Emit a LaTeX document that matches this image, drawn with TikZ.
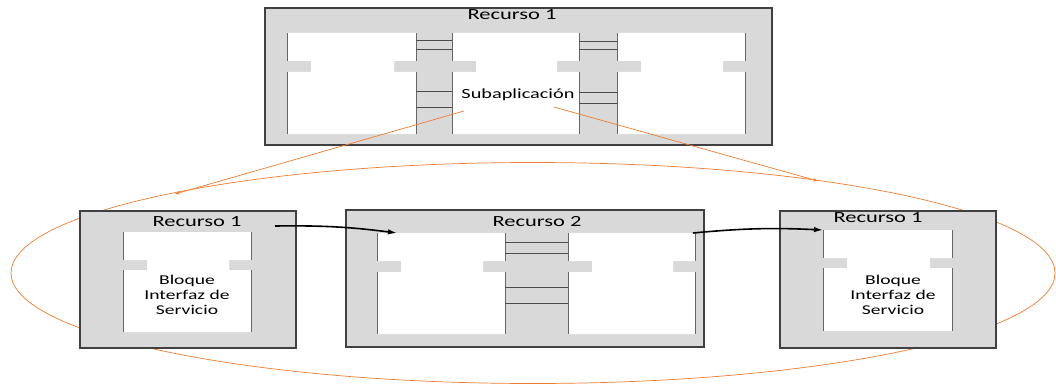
\documentclass[tikz,border=0pt]{standalone}
\usepackage{fontspec}
\setmainfont{Carlito}[FakeStretch=1.45]
\usepackage{tikz}
\usetikzlibrary{arrows.meta,positioning,calc}

\definecolor{fondo}{HTML}{D9D9D9}
\definecolor{borde}{HTML}{404040}
\definecolor{naranja}{HTML}{ED7D31}

% bloque blanco con muescas: nombre, izq, arriba, der, abajo, muesca arriba, muesca abajo
\newcommand{\bloque}[7]{
  \fill[white] (#2,#6) -- (#2,#3) -- (#4,#3) -- (#4,#6) -- ++(-22,0) -- ++(0,#7-#6)
    -- (#4,#7) -- (#4,#5) -- (#2,#5) -- (#2,#7) -- ++(24,0) -- ++(0,#6-#7) -- cycle;
  \draw[lado] (#2,#3) -- (#2,#6) (#2,#7) -- (#2,#5);
  \draw[lado] (#4,#3) -- (#4,#6) (#4,#7) -- (#4,#5);
  \coordinate (#1) at (#2,#3);
}

\begin{document}
\begin{tikzpicture}[x=1pt, y=-1pt,
  recurso/.style={draw=borde, fill=fondo, line width=1.1pt, inner sep=0pt},
  lado/.style={draw=black!60, line width=0.6pt},
  titulo/.style={anchor=base, font=\fontsize{15.5}{18}\selectfont},
  texto/.style={align=center, font=\fontsize{13.5}{14.8}\selectfont},
  enlace/.style={draw=black!70, line width=0.8pt},
  flecha/.style={-{Latex[length=9pt,width=5.5pt]}, line width=1.6pt},
  nar/.style={draw=naranja, line width=0.7pt},
]
\useasboundingbox (0,0) rectangle (1056,385);

% elipse de fondo
\draw[nar] (533,273) ellipse [x radius=522pt, y radius=110.5pt];

% recurso de arriba
\node[recurso, minimum width=507pt, minimum height=137pt] (rtop) at (518.5,76.5) {};
\node[titulo] (ttop) at (512,19.5) {Recurso 1};
\bloque{ba}{287}{33}{416}{134}{61}{72}
\bloque{bb}{452}{33}{579}{134}{61}{72}
\bloque{bc}{617}{33}{745}{134}{61}{72}
\foreach \y in {40,49,91,107} \draw[enlace] (416,\y) -- (452,\y);
\foreach \y in {41,49,92,103} \draw[enlace] (579,\y) -- (617,\y);
\node[font=\fontsize{14}{16}\selectfont, anchor=base] (sub) at (518,98.3) {Subaplicación};

% recursos de abajo
\node[recurso, minimum width=216pt, minimum height=137pt] (r1a) at (188,279.5) {};
\node[recurso, minimum width=358pt, minimum height=137pt] (r2) at (525,278.5) {};
\node[recurso, minimum width=216pt, minimum height=137pt] (r1b) at (888,279.5) {};
\node[titulo] (t1a) at (197,226) {Recurso 1};
\node[titulo] (t2) at (537,226) {Recurso 2};
\node[titulo] (t1b) at (878,222.7) {Recurso 1};

\bloque{bd}{123}{232}{251}{332}{260}{270}
\bloque{be}{377}{233}{505}{334}{261}{272}
\bloque{bf}{568}{233}{695}{334}{261}{272}
\bloque{bg}{823}{230}{952}{331}{258}{268}
\foreach \y in {242,253,287,303} \draw[enlace] (505,\y) -- (568,\y);

\node[texto] (sia) at (187,295) {Bloque\\Interfaz de\\Servicio};
\node[texto] (sib) at (893,295) {Bloque\\Interfaz de\\Servicio};

% flechas entre recursos
\coordinate (s1) at (275,226);
\coordinate (s2) at (693,233);
\draw[flecha] (s1) to[bend left=4] ([xshift=20pt]be);
\draw[flecha] (s2) to[bend left=4] (bg);

% la subaplicacion se despliega
\draw[nar, -{Stealth[length=5pt,width=3.5pt]}] (464,111) -- (175,194);
\draw[nar, -{Stealth[length=5pt,width=3.5pt]}] (554,107) -- (818,181);
\end{tikzpicture}
\end{document}
